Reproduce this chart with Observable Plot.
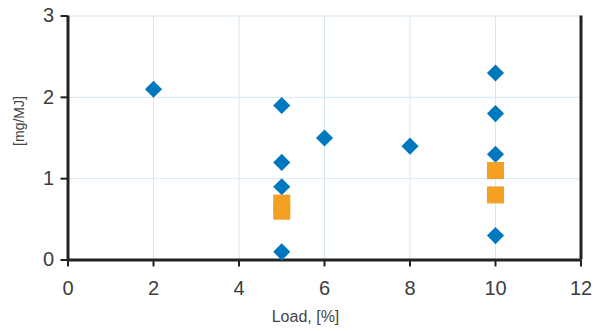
<!DOCTYPE html>
<html>
<head>
<meta charset="utf-8">
<script src="https://cdn.jsdelivr.net/npm/d3@7"></script>
<script src="https://cdn.jsdelivr.net/npm/@observablehq/plot@0.6"></script>
<style>
  html, body { margin: 0; padding: 0; background: #fff; }
  #chart svg { display: block; }
</style>
</head>
<body>
<div id="chart"></div>
<script>
// Blue diamonds
const diamondLoad = [2, 5, 5, 5, 5, 6, 8, 10, 10, 10, 10];
const diamondValue = [2.1, 1.9, 1.2, 0.9, 0.1, 1.5, 1.4, 2.3, 1.8, 1.3, 0.3];
// Orange squares
const squareLoad = [5, 5, 10, 10];
const squareValue = [0.7, 0.6, 1.1, 0.8];

const xTicks = [0, 2, 4, 6, 8, 10, 12];
const yTicks = [0, 1, 2, 3];
const xLabel = "Load, [%]";
const yLabel = "[mg/MJ]";

const diamonds = diamondLoad.map((x, i) => ({x, y: diamondValue[i]}));
const squares = squareLoad.map((x, i) => ({x, y: squareValue[i]}));

const axisColor = "#222";
const gridColor = "#d6e6f4";
const font = "'Liberation Sans', Arial, Helvetica, sans-serif";

const chart = Plot.plot({
  width: 602,
  height: 331,
  marginLeft: 67.5,
  marginRight: 21.5,
  marginTop: 15.5,
  marginBottom: 71.5,
  style: {fontFamily: font, fontSize: "20px", background: "#fff", overflow: "visible"},
  x: {domain: [0, 12], ticks: xTicks, label: null},
  y: {domain: [0, 3], ticks: yTicks, label: null},
  marks: [
    Plot.gridX(xTicks, {stroke: gridColor, strokeOpacity: 1, strokeWidth: 1}),
    Plot.gridY(yTicks, {stroke: gridColor, strokeOpacity: 1, strokeWidth: 1}),
    Plot.axisX(xTicks, {tickSize: 7, tickPadding: 14, fontSize: 20, fill: "#3c3c3c", stroke: axisColor, strokeWidth: 2, tickFormat: d3.format("d"), label: null}),
    Plot.axisY(yTicks, {tickSize: 7, tickPadding: 7, fontSize: 20, fill: "#3c3c3c", stroke: axisColor, strokeWidth: 2, tickFormat: d3.format("d"), label: null}),
    Plot.ruleY([0], {stroke: axisColor, strokeWidth: 3}),
    Plot.ruleX([0], {stroke: axisColor, strokeWidth: 3}),
    Plot.ruleX([12], {stroke: axisColor, strokeWidth: 3}),
    Plot.dot(diamonds, {x: "x", y: "y", symbol: "diamond2", r: 7.7, fill: "#0078bf", stroke: "none"}),
    Plot.dot(squares, {x: "x", y: "y", symbol: "square", r: 9.6, fill: "#f4a024", stroke: "none"}),
    Plot.text([xLabel], {frameAnchor: "bottom", dx: -19, dy: 62, fontSize: 16, fill: "#444", fontFamily: font}),
    Plot.text([yLabel], {frameAnchor: "left", textAnchor: "middle", dx: -48, dy: -17, rotate: -90, fontSize: 14, fill: "#444", fontFamily: font})
  ]
});
document.getElementById("chart").appendChild(chart);
</script>
</body>
</html>
